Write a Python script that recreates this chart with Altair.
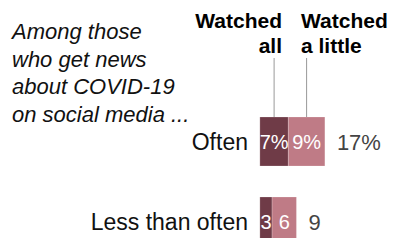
import altair as alt
import pandas as pd

categories = ["Often", "Less than often"]
watched_all = [7, 3]
watched_little = [9, 6]
totals = [17, 9]
all_labels = ["7%", "3"]
little_labels = ["9%", "6"]
total_labels = ["17%", "9"]

FONT = "Liberation Sans"
DARK = "#6f3b47"
LIGHT = "#bf7b86"

rows = []
for c, a, l, al, ll in zip(categories, watched_all, watched_little, all_labels, little_labels):
    rows.append({"cat": c, "series": "Watched all", "start": 0, "end": a, "label": al})
    rows.append({"cat": c, "series": "Watched a little", "start": a, "end": a + l, "label": ll})
seg = pd.DataFrame(rows)
seg["mid"] = (seg["start"] + seg["end"]) / 2

tot = pd.DataFrame({
    "cat": categories,
    "end": [a + l for a, l in zip(watched_all, watched_little)],
    "label": total_labels,
})
cats = pd.DataFrame({"cat": categories})

W, H = 382, 230
xs = alt.Scale(domain=[-62, -62 + W / 4.0625], range=[0, W], nice=False, zero=False)
ys = alt.Scale(domain=categories, range=[109, 238], paddingInner=0.3875, paddingOuter=0)

X = lambda f: alt.X(f, type="quantitative", scale=xs, axis=None)
Y = alt.Y("cat:N", scale=ys, axis=None, sort=categories)

bars = alt.Chart(seg).mark_bar(stroke="white", strokeWidth=0.5, strokeOpacity=0.4).encode(
    x=X("start"), x2="end", y=Y,
    color=alt.Color("series:N", scale=alt.Scale(domain=["Watched all", "Watched a little"], range=[DARK, LIGHT]), legend=None),
)

inner = alt.Chart(seg).mark_text(color="white", font=FONT, fontSize=20, baseline="middle", dy=1).encode(
    x=X("mid"), y=Y, text="label:N",
)

totals_t = alt.Chart(tot).mark_text(color="#444444", font=FONT, fontSize=22, align="left", baseline="middle", dx=12, dy=1).encode(
    x=X("end"), y=Y, text="label:N",
)

cat_t = alt.Chart(cats).mark_text(color="#111111", font=FONT, fontSize=23, align="right", baseline="middle", dy=1).encode(
    x=alt.value(240), y=Y, text="cat:N",
)

leaders = alt.Chart(seg[seg["cat"] == "Often"]).mark_rule(color="#999999", strokeWidth=1).encode(
    x=X("mid"), y=alt.value(50), y2=alt.value(109),
)

hdr = pd.DataFrame({
    "t": [["Watched", "all"], ["Watched", "a little"]],
    "series": ["Watched all", "Watched a little"],
})
hdr_all = alt.Chart(hdr[hdr["series"] == "Watched all"]).mark_text(
    font=FONT, fontSize=21, fontWeight="bold", align="right", baseline="alphabetic", lineHeight=25, color="#000000"
).encode(x=alt.value(274), y=alt.value(19.5), text="t")
hdr_little = alt.Chart(hdr[hdr["series"] == "Watched a little"]).mark_text(
    font=FONT, fontSize=21, fontWeight="bold", align="left", baseline="alphabetic", lineHeight=25, color="#000000"
).encode(x=alt.value(293), y=alt.value(19.5), text="t")

note = pd.DataFrame({"t": [["Among those", "who get news", "about COVID-19", "on social media ..."]]})
note_t = alt.Chart(note).mark_text(
    font=FONT, fontSize=22, fontStyle="italic", align="left", baseline="alphabetic", lineHeight=27.7, color="#111111"
).encode(x=alt.value(4), y=alt.value(31), text="t")

chart = alt.layer(bars, inner, totals_t, cat_t, leaders, hdr_all, hdr_little, note_t).properties(
    width=W, height=H, padding=0, autosize=alt.AutoSizeParams(type="none")
).configure(background="white", view=alt.ViewConfig(stroke=None))

chart.save("out.html", embed_options={"renderer": "svg", "actions": False})
